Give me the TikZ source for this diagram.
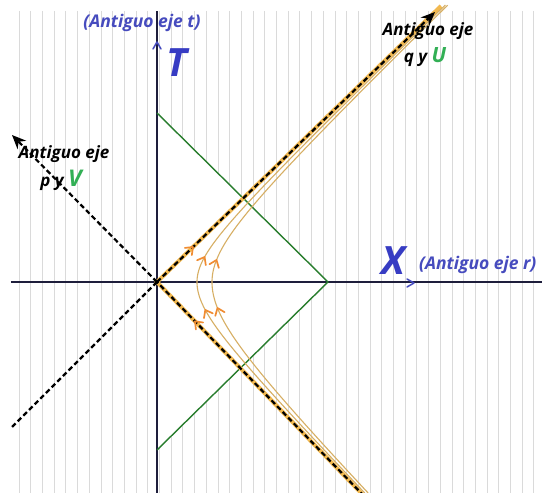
\documentclass[tikz,border=0pt]{standalone}
\usepackage{fontspec}
\newfontfamily\labfont{Open Sans}
\usetikzlibrary{arrows.meta}
\definecolor{gridgray}{RGB}{218,218,218}
\definecolor{axiscol}{RGB}{30,30,60}
\definecolor{diagreen}{RGB}{40,125,45}
\definecolor{bandcol}{RGB}{242,185,80}
\definecolor{curvecol}{RGB}{215,175,100}
\definecolor{chevcol}{RGB}{240,140,50}
\definecolor{lblblue}{RGB}{70,75,190}
\definecolor{bigblue}{RGB}{55,60,195}
\definecolor{lblgreen}{RGB}{50,175,85}
\tikzset{
  gridline/.style={draw=gridgray,line width=0.6pt},
  axisline/.style={draw=axiscol,line width=1.1pt},
  axchev/.style={draw=lblblue,line width=1.5pt,line cap=round,line join=round},
  greenline/.style={draw=diagreen,line width=1.4pt},
  band/.style={draw=bandcol,line width=4pt},
  coneline/.style={draw=black,line width=2.2pt,dash pattern=on 5pt off 3pt},
  hypcurve/.style={draw=curvecol,line width=1.1pt},
  chev/.style={draw=chevcol,line width=1.7pt,line cap=round,line join=round},
  lbl/.style={inner sep=0pt,font=\labfont\bfseries\itshape\fontsize{17}{18}\selectfont},
  blbl/.style={inner sep=0pt,text=lblblue,font=\labfont\bfseries\itshape\fontsize{17.5}{19}\selectfont},
  biglbl/.style={inner sep=0pt,text=bigblue,font=\labfont\bfseries\itshape\fontsize{39}{40}\selectfont},
}
\newcommand{\chevat}[3]{\draw[chev,shift={(#1,#2)},rotate=#3] (-6.5,5) -- (0,0) -- (-6.5,-5);}
\begin{document}
\begin{tikzpicture}[x=1pt,y=1pt]
\useasboundingbox (-157,-211) rectangle (385,282);
\fill[white] (-157,-211) rectangle (385,282);
\begin{scope}
\clip (-157,-211) rectangle (385,282);
% background grid lines
\foreach \i in {0,...,44} {
  \draw[gridline] ({-138+11.7*\i},271) -- ({-138+11.7*\i},-211);
}
% white triangle
\coordinate (gtop) at (0,169);
\coordinate (gright) at (171,0);
\coordinate (gbot) at (0,-168);
\fill[white] (gtop) -- (gright) -- (gbot) -- cycle;
% axes
\coordinate (O) at (0,0);
\coordinate (ttop) at (0,271);
\coordinate (tbot) at (0,-211);
\coordinate (xleft) at (-146,0);
\coordinate (xright) at (385,0);
\draw[axisline] (tbot) -- (ttop);
\draw[axisline] (xleft) -- (xright);
\draw[axchev] (-4,233) -- (0,240) -- (4,233);
\draw[axchev] (250,3) -- (257,-1) -- (250,-5);
% green triangle
\draw[greenline] (gtop) -- (gright) -- (gbot);
% cone bands
\coordinate (uend) at (284,276);
\coordinate (lend) at (207,-214);
\draw[band] (lend) -- (O) -- (uend);
% hyperbolic curves
\foreach \a/\su/\sl in {40/2.664/-2.331, 55/2.349/-2.021} {
  \draw[hypcurve] plot[domain=0:\su,samples=60,variable=\t] ({\a*cosh(\t)},{\a*0.97*sinh(\t)});
  \draw[hypcurve] plot[domain=\sl:0,samples=60,variable=\t] ({\a*cosh(\t)},{\a*1.035*sinh(\t)});
}
% dashed cone lines
\coordinate (uarrow) at (278,270);
\coordinate (larrow) at (-145,147);
\coordinate (llend) at (-147,-147);
\coordinate (lrend) at (207,-214);
\draw[coneline] (lrend) -- (O);
\draw[coneline,-{Stealth[length=14pt,width=12pt]}] (O) -- (uarrow);
\draw[coneline,-{Stealth[length=14pt,width=12pt]}] (O) -- (larrow);
\draw[coneline] (O) -- (llend);
% chevrons
\chevat{36}{35}{44.1}
\chevat{38}{-39.3}{134}
\chevat{47.6}{25}{60.8}
\chevat{48.3}{-28}{118.4}
\chevat{59.5}{22}{68.6}
\chevat{60.5}{-26}{111.9}
\end{scope}
% labels
\node[blbl] (tlab) at (-15,259) {(Antiguo eje t)};
\node[biglbl] (Tlab) at (20,219) {T};
\node[biglbl] (Xlab) at (236,21) {X};
\node[blbl,anchor=west] (rlab) at (262,17) {(Antiguo eje r)};
\node[lbl] (qa) at (271,251) {Antiguo eje};
\node[lbl] (qb) at (268,225) {q y {\color{lblgreen}\fontsize{21}{22}\selectfont U}};
\node[lbl] (pa) at (-93,128) {Antiguo eje};
\node[lbl] (pb) at (-96,102) {p y {\color{lblgreen}\fontsize{23}{24}\selectfont V}};
\end{tikzpicture}
\end{document}
